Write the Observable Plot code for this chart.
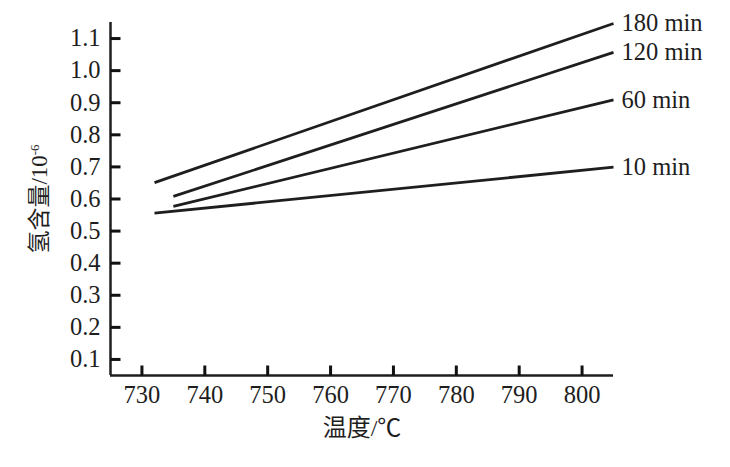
<!DOCTYPE html>
<html>
<head>
<meta charset="utf-8">
<script src="https://cdn.jsdelivr.net/npm/d3@7"></script>
<script src="https://cdn.jsdelivr.net/npm/@observablehq/plot@0.6"></script>
<style>
  html, body { margin: 0; padding: 0; background: #fff; }
</style>
</head>
<body>
<div id="chart"></div>
<script>
// ---- data ----
const series = ["10 min", "60 min", "120 min", "180 min"];
const tempStart = [732, 735, 735, 732];
const tempEnd = [805, 805, 805, 805];
const hStart = [0.556, 0.577, 0.608, 0.651];
const hEnd = [0.699, 0.909, 1.057, 1.147];
const xTicks = [730, 740, 750, 760, 770, 780, 790, 800];
const yTicks = [0.1, 0.2, 0.3, 0.4, 0.5, 0.6, 0.7, 0.8, 0.9, 1.0, 1.1];

const lines = series.map((s, i) => ({
  name: s, x1: tempStart[i], y1: hStart[i], x2: tempEnd[i], y2: hEnd[i]
}));

const W = 730, H = 467, mL = 110, mR = 117, mT = 22, mB = 92;
const xDom = [725, 805], yDom = [0.05, 1.15];
const tickPx = 10;
// inward tick length converted to data units
const xTickLen = tickPx * (yDom[1] - yDom[0]) / (H - mT - mB);
const yTickLen = tickPx * (xDom[1] - xDom[0]) / (W - mL - mR);
const xTickSegs = xTicks.map(t => ({ x1: t, x2: t, y1: yDom[0], y2: yDom[0] + xTickLen }));
const yTickSegs = yTicks.map(t => ({ x1: xDom[0], x2: xDom[0] + yTickLen, y1: t, y2: t }));

const ink = "#1e1e1e";
const serif = "Liberation Serif";
const cjk = "Liberation Serif, Noto Sans CJK SC";
const chart = Plot.plot({
  width: W, height: H,
  marginLeft: mL, marginRight: mR, marginTop: mT, marginBottom: mB,
  style: { background: "#fff", color: ink },
  x: { domain: xDom },
  y: { domain: yDom },
  marks: [
    Plot.axisX({ ticks: xTicks, tickFormat: d => String(d), tickSize: 0, tickPadding: 10, fontSize: 24.5, fontFamily: serif, fill: ink, label: null }),
    Plot.axisY({ ticks: yTicks, tickFormat: d => d.toFixed(1), tickSize: 0, tickPadding: 10, fontSize: 24.5, fontFamily: serif, fill: ink, label: null }),
    Plot.ruleY([yDom[0]], { stroke: ink, strokeWidth: 2.5 }),
    Plot.ruleX([xDom[0]], { stroke: ink, strokeWidth: 2.5 }),
    Plot.link(lines, { x1: "x1", y1: "y1", x2: "x2", y2: "y2", stroke: ink, strokeWidth: 2.8 }),
    // inward tick marks
    Plot.link(xTickSegs, { x1: "x1", y1: "y1", x2: "x2", y2: "y2", stroke: "#111", strokeWidth: 3 }),
    Plot.link(yTickSegs, { x1: "x1", y1: "y1", x2: "x2", y2: "y2", stroke: "#111", strokeWidth: 3 }),
    Plot.text(lines, { x: "x2", y: "y2", text: "name", textAnchor: "start", dx: 8, fill: ink, fontSize: 24.5, fontFamily: serif }),
    Plot.axisX({ ticks: [], label: "温度/℃", labelAnchor: "center", labelOffset: 60, labelArrow: "none", fontSize: 24, fontFamily: cjk, fill: ink }),
    Plot.axisY({ ticks: [], label: "氢含量/10-6", labelAnchor: "center", labelOffset: 80, labelArrow: "none", fontSize: 23, fontFamily: cjk, fill: ink })
  ]
});

// superscript on the y-axis title
const yl = chart.querySelector('[aria-label="y-axis label"] text');
if (yl) {
  yl.textContent = "";
  const t1 = document.createElementNS("http://www.w3.org/2000/svg", "tspan");
  t1.textContent = "氢含量/10";
  const t2 = document.createElementNS("http://www.w3.org/2000/svg", "tspan");
  t2.textContent = "-6";
  t2.setAttribute("dy", "-0.6em");
  t2.setAttribute("font-size", "13px");
  yl.appendChild(t1);
  yl.appendChild(t2);
}
document.getElementById("chart").appendChild(chart);
</script>
</body>
</html>
